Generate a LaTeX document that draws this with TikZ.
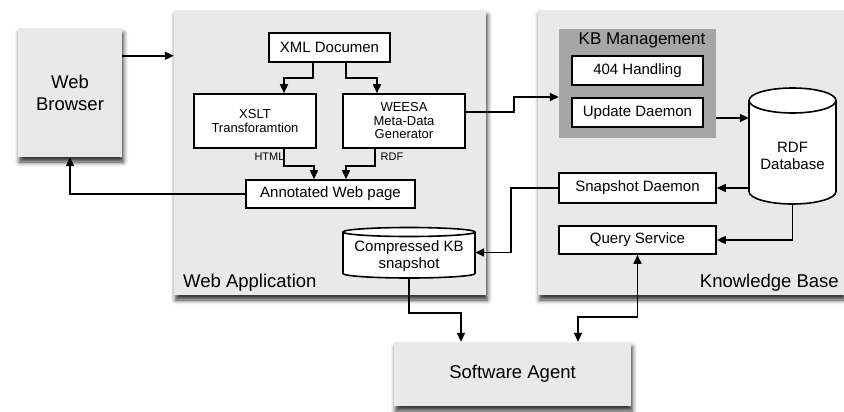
\documentclass[tikz,border=0pt]{standalone}
\usepackage{fontspec}
\setmainfont{Liberation Sans}
\usetikzlibrary{arrows.meta,shadows.blur}

\definecolor{panelgray}{RGB}{233,233,233}
\definecolor{mgmtgray}{RGB}{166,166,166}

\tikzset{
  panel/.style={fill=panelgray, draw=none, inner sep=0pt,
    blur shadow={shadow xshift=1.5pt, shadow yshift=-5pt,
                 shadow blur radius=4.5pt, shadow opacity=80}},
  bigtext/.style={font=\fontsize{18.5}{22}\selectfont, align=center},
  box/.style={draw, fill=white, line width=1.6pt, inner sep=0pt,
    font=\fontsize{15}{17}\selectfont, align=center},
  smallbox/.style={box, font=\fontsize{13}{13.5}\selectfont},
  area/.style={inner sep=0pt},
  portlabel/.style={font=\fontsize{11}{12}\selectfont, inner sep=0pt},
  conn/.style={line width=1.6pt},
  arr/.style={conn, -{Triangle[length=9pt,width=8pt]}},
  arrboth/.style={conn, {Triangle[length=9pt,width=8pt]}-{Triangle[length=9pt,width=8pt]}},
  drum/.style={draw, fill=white, line width=1.6pt},
}

\begin{document}
\begin{tikzpicture}[x=1pt, y=-1pt]
\useasboundingbox (0,0) rectangle (844,412);

% --- outer panels -------------------------------------------------
\node[panel, bigtext, minimum width=104pt, minimum height=129pt] (wb) at (70,92.5) {Web\\Browser};
\node[panel, minimum width=312pt, minimum height=285pt] (wa) at (330,152.5) {};
\node[panel, minimum width=306pt, minimum height=285pt] (kb) at (691,152.5) {};
\node[panel, bigtext, minimum width=237pt, minimum height=64pt] (sa) at (512.5,374) {Software Agent};

\node[bigtext, anchor=base west, inner sep=0pt] (walabel) at (183,287) {Web Application};
\node[bigtext, anchor=base east, inner sep=0pt] (kblabel) at (839,287) {Knowledge Base};

% --- web application ----------------------------------------------
\node[box, minimum width=121pt, minimum height=29pt] (xml) at (329.5,47.5) {XML Documen};
\node[smallbox, minimum width=122pt, minimum height=54pt] (xslt) at (255,121) {XSLT\\Transforamtion};
\node[smallbox, minimum width=122pt, minimum height=54pt] (weesa) at (404,121) {WEESA\\Meta-Data\\Generator};
\node[box, minimum width=169pt, minimum height=28pt] (awp) at (330.5,194) {Annotated Web page};

\node[portlabel] (html) at (269.5,157) {HTML};
\node[portlabel] (rdflbl) at (392,157) {RDF};

% compressed snapshot drum
\node[area, minimum width=132pt, minimum height=51pt] (ckb) at (409,252.5) {};
\draw[drum] (343,232) -- (343,273.5)
  arc[start angle=180, end angle=360, x radius=66pt, y radius=4.5pt] -- (475,232);
\draw[drum] (409,232) ellipse[x radius=66pt, y radius=4.5pt];
\node[box, draw=none, fill=none] (ckbtext) at (409,256) {Compressed KB\\snapshot};

% --- knowledge base -----------------------------------------------
\node[fill=mgmtgray, inner sep=0pt, minimum width=157pt, minimum height=109pt] (kbm) at (637.5,83.5) {};
\node[font=\fontsize{17}{19}\selectfont, anchor=base, inner sep=0pt] (kbmtitle) at (642,45) {KB Management};
\node[box, minimum width=131pt, minimum height=29pt] (h404) at (637.5,70.5) {404 Handling};
\node[box, minimum width=131pt, minimum height=29pt] (upd) at (637.5,112.5) {Update Daemon};
\node[box, minimum width=157pt, minimum height=30pt] (snap) at (637.5,188) {Snapshot Daemon};
\node[box, minimum width=157pt, minimum height=28pt] (qs) at (637.5,240) {Query Service};

% RDF database drum
\node[area, minimum width=87pt, minimum height=116pt] (rdf) at (792.5,146) {};
\draw[drum] (749,100.5) -- (749,191.5)
  arc[start angle=180, end angle=360, x radius=43.5pt, y radius=12.5pt] -- (836,100.5);
\draw[drum] (792.5,100.5) ellipse[x radius=43.5pt, y radius=12.5pt];
\node[box, draw=none, fill=none] (rdftext) at (792.5,156) {RDF\\Database};

% --- connectors ---------------------------------------------------
\draw[arr] ([yshift=-28pt]wb.north east) -- ([yshift=-28pt]wb.north east -| wa.west);

\draw[arr] ([xshift=45pt]xml.south west) -- ++(0,15) -| ([xshift=29pt]xslt.north);
\draw[arr] ([xshift=-45pt]xml.south east) -- ++(0,15) -| ([xshift=-27pt]weesa.north);
\draw[arr] ([xshift=29pt]xslt.south) -- ++(0,17) -| ([xshift=-16.5pt]awp.north);
\draw[arr] ([xshift=-29pt]weesa.south) -- ++(0,17) -| ([xshift=15.5pt]awp.north);

\draw[arr] (awp.west) -| (wb.south);

\draw[arr] ([yshift=9pt]weesa.east) -- ++(48,0) |- ([yshift=-13.5pt]kbm.west);
\draw[arr] ([yshift=-34.5pt]kbm.east) -- ([yshift=-34.5pt]kbm.east -| rdf.west);

\draw[arr] (rdf.west |- snap.east) -- (snap.east);
\draw[arr] (rdf.south) |- (qs.east);
\draw[arr] (snap.west) -- ++(-47,0) |- (ckb.east);

\draw[arr] (ckb.south) -- ++(0,35) -| ([xshift=-51.5pt]sa.north);
\draw[arrboth] (qs.south) -- ++(0,62) -| ([xshift=65.5pt]sa.north);
\end{tikzpicture}
\end{document}
